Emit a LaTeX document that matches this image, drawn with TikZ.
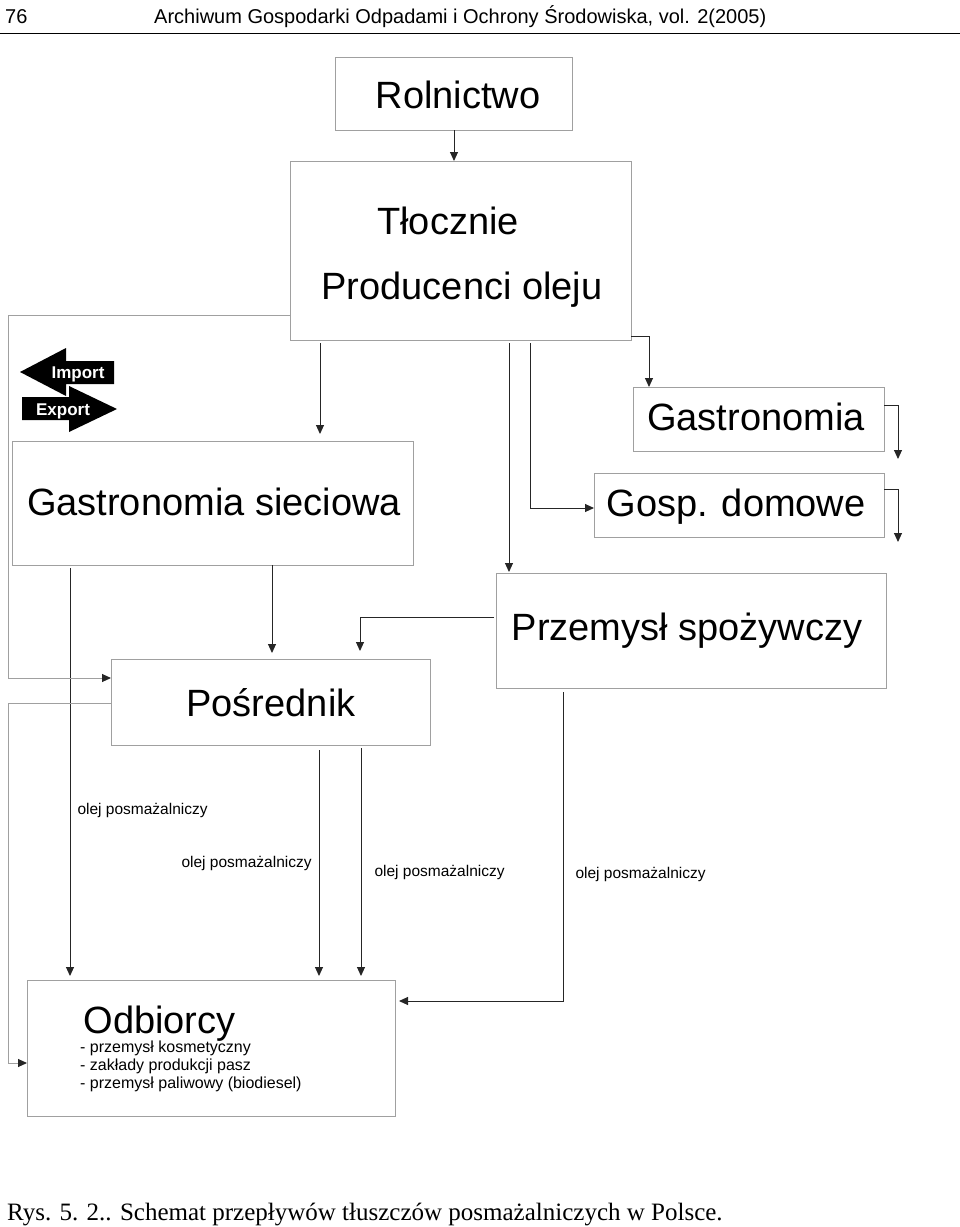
\documentclass[tikz,border=0pt]{standalone}
\usepackage{fontspec}
\setmainfont{Liberation Sans}
\newfontfamily\capfont{Liberation Serif}
\usetikzlibrary{arrows.meta}
\definecolor{boxgray}{HTML}{A0A0A0}
\begin{document}
\begin{tikzpicture}[x=1pt,y=-1pt,
  box/.style={draw=boxgray,line width=1pt},
  big/.style={font=\fontsize{38}{40}\selectfont,anchor=base},
  lab/.style={font=\fontsize{15.5}{17}\selectfont,anchor=base west},
  conn/.style={draw=black!85,line width=1pt,-{Triangle[length=9pt,width=8pt]}},
  gline/.style={draw=boxgray,line width=1pt},
  glinea/.style={draw=boxgray,line width=1pt,-{Triangle[length=9pt,width=8pt,fill=black!85,color=black!85]}}]
\useasboundingbox (0,0) rectangle (960,1227);
% header
\node[font=\fontsize{20}{22}\selectfont,anchor=base west,inner sep=0] (pg) at (5,23) {76};
\node[font=\fontsize{20}{22}\selectfont,anchor=base west,inner sep=0] (hd) at (154,23) {Archiwum Gospodarki Odpadami i Ochrony Środowiska, vol. 2(2005)};
\draw[line width=1pt] (0,33) -- (960,33);
% boxes
\draw[box] (335,57) rectangle (572,130);
\node[big] (rol) at (458,108) {Rolnictwo};
\coordinate (rolB) at (454,130);
\draw[box] (290,161) rectangle (631,340);
\node[big] (tl) at (448,234) {Tłocznie};
\node[big] (pr) at (462,299) {Producenci oleju};
\coordinate (tlT) at (454,161);
\draw[box] (633,387) rectangle (884,451);
\node[big] (gas) at (756,430) {Gastronomia};
\draw[box] (594,473) rectangle (884,537);
\node[big] (gd) at (736,516) {Gosp. domowe};
\draw[box] (12,441) rectangle (413,565);
\node[big] (gs) at (214,515) {Gastronomia sieciowa};
\draw[box] (496,573) rectangle (886,688);
\node[big] (ps) at (687,640) {Przemysł spożywczy};
\draw[box] (111,659) rectangle (430,745);
\node[big] (po) at (271,716) {Pośrednik};
\draw[box] (27,980) rectangle (395,1116);
\node[big,anchor=base west] (od) at (80,1033) {Odbiorcy};
\node[font=\fontsize{16}{18}\selectfont,anchor=north west,align=left,inner sep=0] (odl) at (80,1041) {- przemysł kosmetyczny\\- zakłady produkcji pasz\\- przemysł paliwowy (biodiesel)};
% import/export
\fill[black] (20,372) -- (66,348) -- (66,361) -- (114,361) -- (114,384) -- (66,384) -- (66,396) -- cycle;
\node[font=\bfseries\fontsize{17}{19}\selectfont,text=white,anchor=base] (imp) at (78,378) {Import};
\fill[black] (117,409) -- (69,386) -- (69,397) -- (22,397) -- (22,420) -- (69,420) -- (69,432) -- cycle;
\node[font=\bfseries\fontsize{17}{19}\selectfont,text=white,anchor=base] (exp) at (63,415) {Export};
% connectors
\draw[conn] (rolB) -- (tlT);
\draw[conn] (631,336) -- (649,336) -- (649,387);
\draw[conn] (884,405) -- (898,405) -- (898,459);
\draw[conn] (884,489) -- (898,489) -- (898,542);
\draw[conn] (530,343) -- (530,508) -- (594,508);
\draw[conn] (509,343) -- (509,572);
\draw[conn] (320,343) -- (320,434);
\draw[conn] (494,617) -- (360,617) -- (360,651);
\draw[conn] (272,565) -- (272,653);
\draw[conn] (70,568) -- (70,976);
\draw[conn] (319,750) -- (319,976);
\draw[conn] (361,748) -- (361,976);
\draw[conn] (563,692) -- (563,1001) -- (399,1001);
\draw[glinea] (290,315) -- (8,315) -- (8,678) -- (111,678);
\draw[glinea] (111,703) -- (8,703) -- (8,1063) -- (27,1063);
% labels
\node[lab] (l1) at (74,814) {olej posmażalniczy};
\node[lab] (l2) at (178,867) {olej posmażalniczy};
\node[lab] (l3) at (371,876) {olej posmażalniczy};
\node[lab] (l4) at (572,878) {olej posmażalniczy};
% caption
\node[font=\capfont\fontsize{25}{27}\selectfont,anchor=base west,inner sep=0] (cap) at (7,1220) {Rys. 5. 2.. Schemat przepływów tłuszczów posmażalniczych w Polsce.};
\end{tikzpicture}
\end{document}
